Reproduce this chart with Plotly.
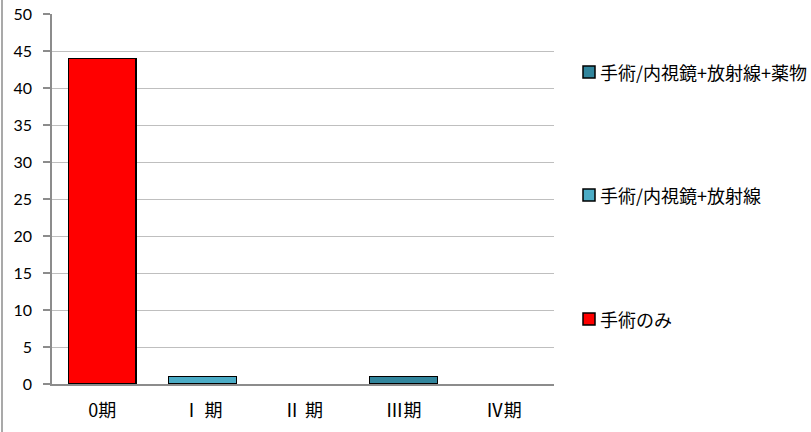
import plotly.graph_objects as go

categories = ["0期", "Ⅰ 期", "Ⅱ 期", "Ⅲ期", "Ⅳ期"]
surgery_only = [44, None, None, None, None]
surgery_endo_rad = [None, 1, None, None, None]
surgery_endo_rad_drug = [None, None, None, 1, None]

names = ["手術のみ", "手術/内視鏡+放射線", "手術/内視鏡+放射線+薬物"]
colors = ["#FF0000", "#4BACC6", "#31859C"]
series = [surgery_only, surgery_endo_rad, surgery_endo_rad_drug]

W, H = 811, 432
L, R, T, B = 52, 257, 14, 48
pw, ph = W - L - R, H - T - B

fig = go.Figure()
for n, c, s in zip(names, colors, series):
    fig.add_trace(go.Bar(
        x=categories, y=s, name=n,
        marker=dict(color=c, line=dict(color="#000000", width=1.5)),
        showlegend=False, hoverinfo="skip",
    ))

# legend drawn as boxes + text, Excel style (spread vertically)
legend_centers_px = [319, 195, 72]
def px_x(p):
    return (p - L) / pw
def px_y(p):
    return (H - B - p) / ph

for n, c, yc in zip(names, colors, legend_centers_px):
    fig.add_shape(type="rect", xref="paper", yref="paper",
                  x0=px_x(583), x1=px_x(595),
                  y0=px_y(yc + 6), y1=px_y(yc - 6),
                  fillcolor=c, line=dict(color="#000000", width=1.5))
    fig.add_annotation(xref="paper", yref="paper",
                       x=px_x(598), y=px_y(yc), xanchor="left", yanchor="middle",
                       text=n, showarrow=False,
                       font=dict(family="Noto Sans CJK JP", size=18, color="#000000"))

fig.update_layout(
    barmode="stack",
    bargap=0.324,
    width=W, height=H,
    margin=dict(l=L, r=R, t=T, b=B),
    paper_bgcolor="#FFFFFF", plot_bgcolor="#FFFFFF",
    xaxis=dict(
        showline=True, linecolor="#8C8C8C", linewidth=1.5,
        ticks="", showgrid=False, automargin=False,
        ticklabelstandoff=10,
        tickfont=dict(family="Noto Sans CJK JP", size=18, color="#000000"),
    ),
    yaxis=dict(
        range=[0, 50], dtick=5, tick0=0, automargin=False,
        showline=True, linecolor="#8C8C8C", linewidth=1.5,
        ticks="outside", ticklen=7, tickcolor="#8C8C8C", tickwidth=1.5,
        showgrid=True, gridcolor="#BFBFBF", gridwidth=1.2,
        zeroline=False, ticklabelstandoff=8,
        tickfont=dict(family="Lato", size=16, color="#000000"),
    ),
)
# x axis line extension to the left (Excel tick crossing)
fig.add_shape(type="line", xref="paper", yref="paper",
              x0=px_x(45), x1=0, y0=0, y1=0,
              line=dict(color="#8C8C8C", width=1.5))
# outer chart-area border on the left edge
fig.add_shape(type="line", xref="paper", yref="paper",
              x0=px_x(2), x1=px_x(2), y0=px_y(H + 5), y1=px_y(-5),
              line=dict(color="#8C8C8C", width=1.5))
fig.write_html("out.html",
               config={"displayModeBar": False},
               post_script="document.body.style.margin='0';document.body.style.padding='0';")
